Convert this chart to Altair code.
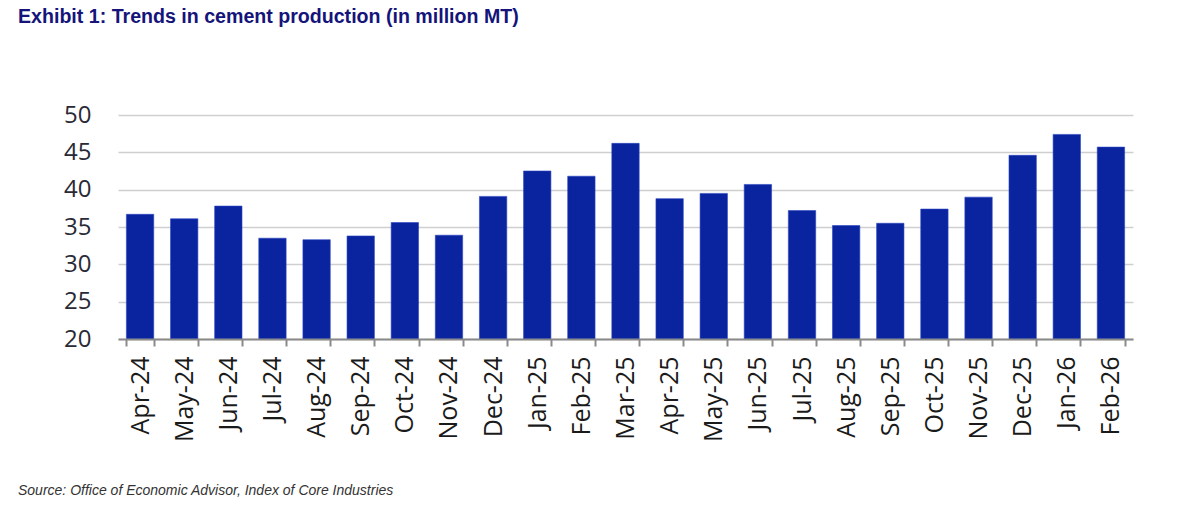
import altair as alt
import pandas as pd

months = ["Apr-24", "May-24", "Jun-24", "Jul-24", "Aug-24", "Sep-24", "Oct-24", "Nov-24",
          "Dec-24", "Jan-25", "Feb-25", "Mar-25", "Apr-25", "May-25", "Jun-25", "Jul-25",
          "Aug-25", "Sep-25", "Oct-25", "Nov-25", "Dec-25", "Jan-26", "Feb-26"]
production = [36.7, 36.1, 37.8, 33.5, 33.3, 33.8, 35.6, 33.9,
              39.1, 42.5, 41.8, 46.2, 38.8, 39.5, 40.7, 37.2,
              35.2, 35.5, 37.4, 39.0, 44.6, 47.4, 45.7]
y_ticks = [20, 25, 30, 35, 40, 45, 50]
y_base = 20

title_text = "Exhibit 1: Trends in cement production (in million MT)"
source_text = ["Source: Office of Economic Advisor, Index of Core Industries"]

df = pd.DataFrame({"month": months, "value": production})
src = pd.DataFrame({"t": source_text})

bars = alt.Chart(df).mark_bar(color="#0A24A0", stroke="#2a44c0", strokeWidth=0.6).encode(
    x=alt.X("month:N", sort=months, title=None,
            scale=alt.Scale(paddingInner=0.38, paddingOuter=0.19),
            axis=alt.Axis(labelAngle=-90, labelFont="Open Sans", labelFontSize=25,
                          labelColor="#1a1a1a", labelPadding=10, labelBaseline="middle",
                          tickBand="extent", tickColor="#8a8a8a", tickSize=7, tickWidth=2,
                          domainColor="#8a8a8a", domainWidth=2, grid=False, zindex=1)),
    y=alt.Y("value:Q", title=None,
            scale=alt.Scale(domain=[20, 50], nice=False, zero=False),
            axis=alt.Axis(values=y_ticks, labelFont="Open Sans", labelFontSize=24,
                          labelColor="#2a2a36", labelPadding=27, ticks=False, domain=False,
                          gridColor="#cfcfcf", gridWidth=1.5)),
    y2=alt.datum(y_base),
)

source = alt.Chart(src).mark_text(align="left", baseline="alphabetic", font="Liberation Sans",
                                  fontSize=14, fontStyle="italic", color="#333333").encode(
    x=alt.value(-100), y=alt.value(380), text="t:N")

chart = alt.layer(bars, source).properties(
    width=1015, height=224,
    background="white",
    padding={"left": 118, "top": 115, "right": 67, "bottom": 176},
    autosize=alt.AutoSizeParams(type="none"),
    title=alt.TitleParams(title_text, anchor="start", frame="group", dx=-100, offset=75,
                          font="Liberation Sans", fontSize=19.6, fontWeight="bold", color="#14147a"),
).configure_view(stroke="transparent", strokeWidth=0)

chart.save("out.html", embed_options={"renderer": "svg", "actions": False})
